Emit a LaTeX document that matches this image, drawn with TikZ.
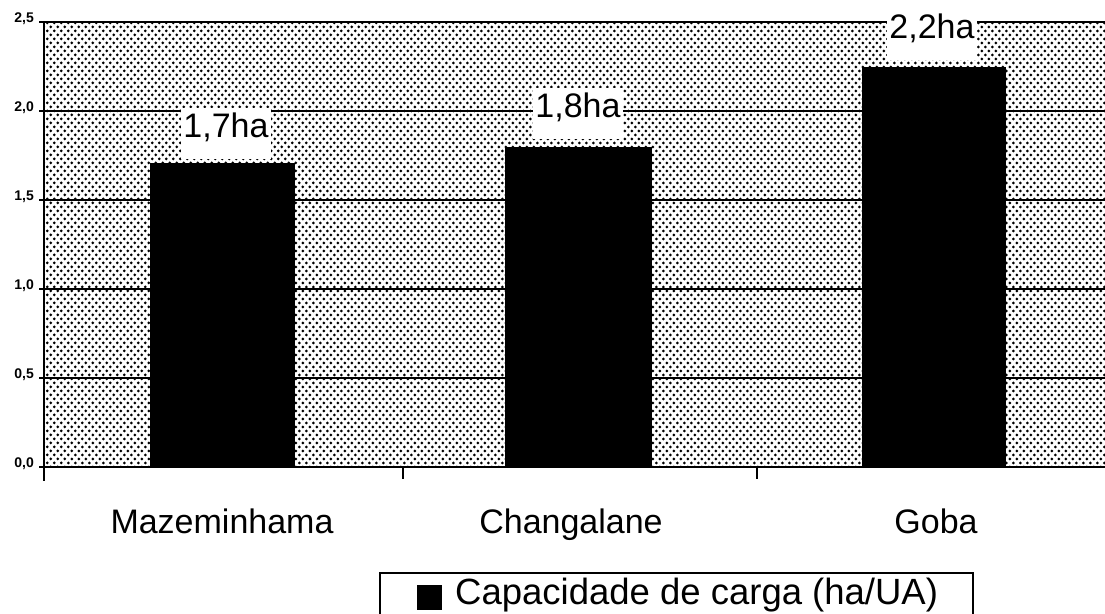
\documentclass[tikz,border=0pt]{standalone}
\usepackage{fontspec}
\setmainfont{Liberation Sans}
\usetikzlibrary{patterns}
\pgfdeclarepatternformonly{halftone}{\pgfpoint{-1pt}{-1pt}}{\pgfpoint{8pt}{9pt}}{\pgfpoint{7pt}{8pt}}{%
  \pgfpathcircle{\pgfpoint{1.75pt}{2pt}}{1.5pt}%
  \pgfpathcircle{\pgfpoint{5.25pt}{6pt}}{1.5pt}%
  \pgfusepath{fill}}
\tikzset{
  grid/.style={line width=1.6pt},
  axis/.style={line width=2.6pt},
  bar/.style={fill=black},
  vlabel/.style={fill=white, inner sep=0pt, inner xsep=2pt, text height=29pt, text depth=22pt, anchor=base, font=\fontsize{34}{40}\selectfont},
  catlabel/.style={inner sep=0pt, anchor=base, font=\fontsize{34}{40}\selectfont},
  ylabel/.style={inner sep=0pt, anchor=east, font=\fontsize{14}{16}\selectfont\bfseries},
}
\begin{document}
\begin{tikzpicture}[x=1pt,y=-1pt]
\useasboundingbox (0,0) rectangle (1105,613);
% plot area
\fill[pattern=halftone] (44,22) rectangle (1105,467);
\foreach \yy in {111,200,289,378} \draw[grid] (44,\yy) -- (1105,\yy);
\draw[line width=2.2pt] (44,22) -- (1105,22);
% bars
\fill[bar] (150,163) rectangle (295,467);
\fill[bar] (505,147) rectangle (652,467);
\fill[bar] (862,67) rectangle (1006,467);
% axes
\draw[axis] (44,22) -- (44,481);
\draw[axis] (44,467) -- (1105,467);
\foreach \xx in {403,757} \draw[line width=2pt] (\xx,467) -- (\xx,479);
\foreach \yy in {22,111,200,289,378,467} \draw[line width=1.4pt] (39,\yy) -- (44,\yy);
% y labels
\node[ylabel] (y25) at (34,19) {2,5};
\node[ylabel] (y20) at (34,108) {2,0};
\node[ylabel] (y15) at (34,197) {1,5};
\node[ylabel] (y10) at (34,286) {1,0};
\node[ylabel] (y05) at (34,375) {0,5};
\node[ylabel] (y00) at (34,464) {0,0};
% value labels
\node[vlabel] (v1) at (226,137) {1,7ha};
\node[vlabel] (v2) at (578,117) {1,8ha};
\node[vlabel] (v3) at (932,38) {2,2ha};
% category labels
\node[catlabel] (c1) at (222,533) {Mazeminhama};
\node[catlabel] (c2) at (571,533) {Changalane};
\node[catlabel] (c3) at (936,533) {Goba};
% legend
\draw[line width=2pt] (380,625) -- (380,573) -- (973,573) -- (973,625);
\fill (417,585) rectangle (442,610);
\node[catlabel, anchor=base west, font=\fontsize{36.5}{40}\selectfont] (leg) at (455,604) {Capacidade de carga (ha/UA)};
\end{tikzpicture}
\end{document}
